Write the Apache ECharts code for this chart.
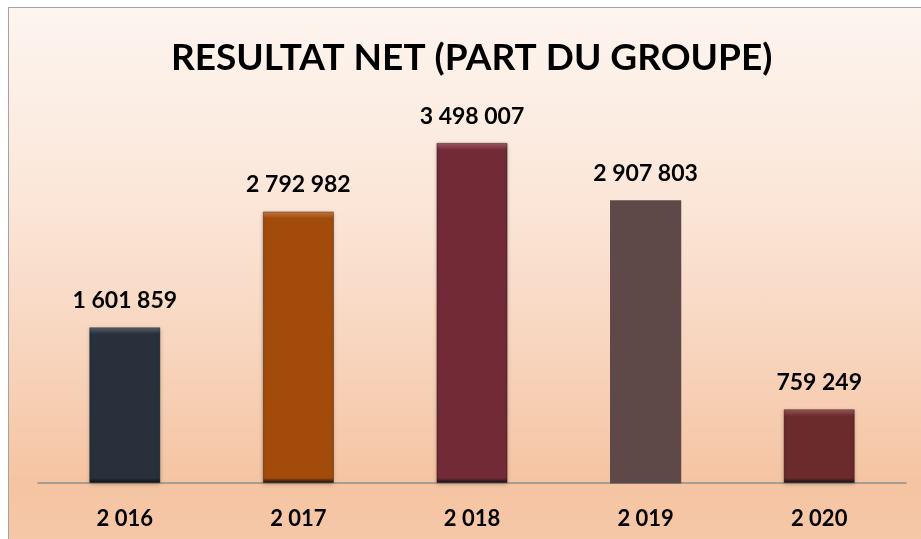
<!DOCTYPE html>
<html>
<head>
<meta charset="utf-8">
<script src="https://cdn.jsdelivr.net/npm/echarts@6/dist/echarts.min.js"></script>
<style>
html, body { margin: 0; padding: 0; background: #ffffff; overflow: hidden; }
#frame {
  position: absolute; left: 8px; top: 7px; width: 930px; height: 560px;
  border: 1.5px solid #a3a3a3;
  background: linear-gradient(to bottom, #fdf5ef 0%, #fbe6d8 35%, #f7d2b9 65%, #f5c4a2 85%, #f6c9ab 100%);
}
#chart { position: absolute; left: 0; top: 0; width: 921px; height: 539px; }
</style>
</head>
<body>
<div id="frame"></div>
<div id="chart"></div>
<script>
const titleText = 'RESULTAT NET (PART DU GROUPE)';
const categories = ['2 016', '2 017', '2 018', '2 019', '2 020'];
const values = [1601859, 2792982, 3498007, 2907803, 759249];
const barColors = ['#27303b', '#a24b0b', '#722a37', '#5f4848', '#6b2a2b'];
const bevelTop = ['#5a6470', '#c87a45', '#a25a66', '#5f4848', '#9a5a5a'];

const yMax = 4000000;
const plotHeight = 389;

function fmt(v) {
  return String(v).replace(/\B(?=(\d{3})+(?!\d))/g, ' ');
}

function barFill(i, v) {
  if (i === 3) return barColors[i];
  const h = v / yMax * plotHeight;
  const t = Math.min(0.4, 7 / h);
  const b = Math.min(0.4, 5 / h);
  return new echarts.graphic.LinearGradient(0, 0, 0, 1, [
    { offset: 0, color: bevelTop[i] },
    { offset: t, color: barColors[i] },
    { offset: 1 - b, color: barColors[i] },
    { offset: 1, color: 'rgba(20,15,15,1)' }
  ]);
}

const chart = echarts.init(document.getElementById('chart'), null, { renderer: 'canvas' });
chart.setOption({
  backgroundColor: 'transparent',
  animation: false,
  title: {
    text: titleText,
    left: 166,
    top: 35,
    textStyle: { fontFamily: 'Lato', fontWeight: 'bold', fontSize: 37, color: '#000' }
  },
  grid: { left: 38, right: 15, top: 94, bottom: 56 },
  xAxis: {
    type: 'category',
    data: categories,
    axisLine: { show: true, lineStyle: { color: '#8e8e8e', width: 1.5 } },
    axisTick: { show: false },
    axisLabel: { fontFamily: 'Lato', fontWeight: 'bold', fontSize: 22, color: '#000', margin: 25 }
  },
  yAxis: {
    type: 'value', min: 0, max: yMax,
    show: false, splitLine: { show: false }
  },
  series: [{
    type: 'bar',
    barWidth: '41%',
    data: values.map((v, i) => ({
      value: v,
      itemStyle: {
        color: barFill(i, v),
        borderColor: i === 3 ? barColors[i] : 'rgba(0,0,0,0.35)',
        borderWidth: i === 3 ? 0 : 1,
        shadowColor: 'rgba(0,0,0,0.25)',
        shadowBlur: i === 3 ? 0 : 4,
        shadowOffsetY: 1
      }
    })),
    label: {
      show: true, position: 'top', distance: 15,
      formatter: p => fmt(p.value),
      fontFamily: 'Lato', fontWeight: 'bold', fontSize: 23, color: '#000'
    }
  }]
});
</script>
</body>
</html>
